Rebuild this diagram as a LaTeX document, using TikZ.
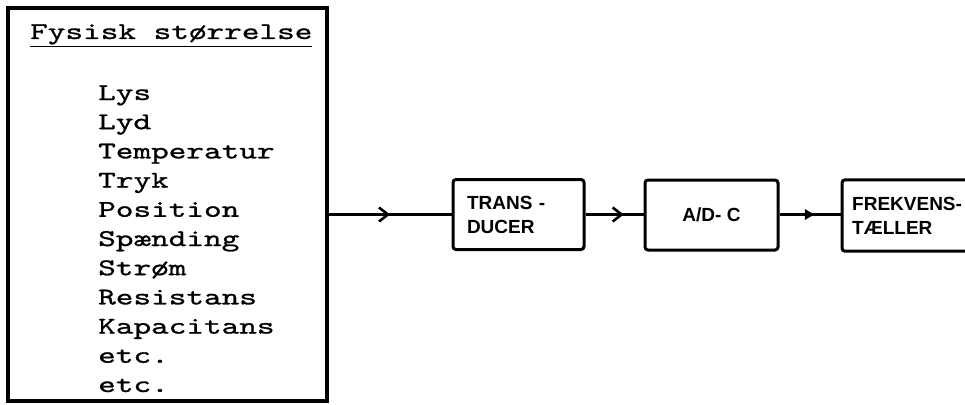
\documentclass[tikz,border=0pt]{standalone}
\usepackage{fontspec}
\newfontfamily\boxfont{Liberation Sans}
\newfontfamily\typefont{lmmono10-regular.otf}[FakeStretch=1.4, FakeBold=1]
\usetikzlibrary{arrows.meta,decorations.markings}
\tikzset{
  monotext/.style={font=\typefont\fontsize{24}{29}\selectfont, inner sep=0pt},
  blocktext/.style={font=\boxfont\bfseries\fontsize{19}{24}\selectfont},
  blockbox/.style={draw, line width=3pt, rounded corners=3pt, minimum height=70pt, inner sep=0pt},
  wire/.style={line width=2.6pt},
  midarrow/.style 2 args={postaction={decorate}, decoration={markings, mark=at position #1 with {\arrow{#2}}}}
}
\begin{document}
\begin{tikzpicture}[x=1pt,y=-1pt]
\useasboundingbox (0,0) rectangle (965,404);
\fill[white] (0,0) rectangle (965,404);
% source box
\node[draw, line width=3.4pt, minimum width=319pt, minimum height=393pt, inner sep=0pt] (src) at (167.5,204.5) {};
\node[monotext, anchor=base west] (hdr) at (30,39) {\underline{Fysisk størrelse}};
\foreach \t [count=\i] in {Lys,Lyd,Temperatur,Tryk,Position,Spænding,Strøm,Resistans,Kapacitans,etc.,etc.}
  \node[monotext, anchor=base west] (q\i) at (98,{100+29.2*(\i-1)}) {\t};
% blocks
\node[blockbox, blocktext, minimum width=131pt, text width=103pt, align=left] (td) at (518.5,214.5) {TRANS -\\DUCER};
\node[blockbox, blocktext, minimum width=133pt, align=center] (ad) at (711.5,215) {A/D- C};
\node[blocktext, anchor=west, minimum width=123pt, minimum height=71pt, text width=113pt, align=left, inner xsep=10pt, inner ysep=0pt] (fr) at (842,215.5) {FREKVENS-\\TÆLLER};
\draw[line width=3pt, rounded corners=3pt] (fr.north east) -- (fr.north west) -- (fr.south west) -- (fr.south east);
% connectors
\draw[wire, midarrow={0.5}{Straight Barb[length=9pt,width=14pt,line width=2.6pt]}] (td.west -| src.east) -- (td.west);
\draw[wire, midarrow={0.66}{Straight Barb[length=9pt,width=14pt,line width=2.6pt]}] (td.east) -- (ad.west |- td.east);
\draw[wire, midarrow={0.58}{Latex[length=11pt,width=12pt]}] (ad.east |- td.east) -- (fr.west |- td.east);
\end{tikzpicture}
\end{document}
